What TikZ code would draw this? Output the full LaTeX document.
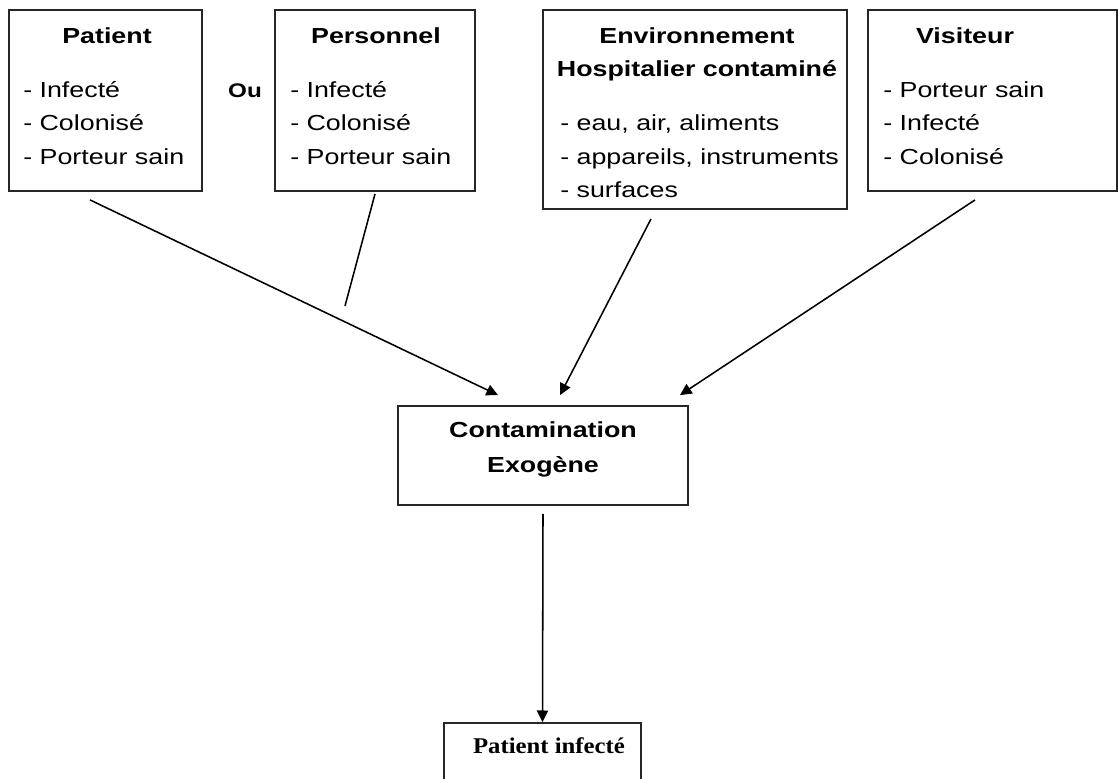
\documentclass[tikz,border=0pt]{standalone}
\usepackage{fontspec}
\setmainfont{Liberation Sans}[FakeStretch=1.23]
\newfontfamily\serifwide{Liberation Serif}[FakeStretch=1.1]
\usepackage{tikz}
\usetikzlibrary{positioning, arrows.meta, fit, calc}

\tikzset{
  srcbox/.style={draw=black!85, line width=1.3pt, inner sep=0pt},
  headtxt/.style={anchor=base, inner sep=0pt, font=\fontsize{15.5}{23.8}\selectfont\bfseries},
  itemtxt/.style={anchor=base west, inner sep=0pt},
  flowline/.style={line width=1.1pt, -{Triangle[length=2.9mm,width=2.8mm]}},
}

\begin{document}
\begin{tikzpicture}[x=0.025cm,y=-0.025cm,font=\fontsize{15.5}{23.8}\selectfont]
    \useasboundingbox (0,0) rectangle (1118,778);

    % boxes
    \node[srcbox, fit={(9,10) (202,191)}] (patient) {};
    \node[srcbox, fit={(275,10) (475,191)}] (staff) {};
    \node[srcbox, fit={(543,10) (847,209)}] (env) {};
    \node[srcbox, fit={(868,10) (1117,191)}] (visitor) {};
    \node[srcbox, fit={(398,406) (688,505)}] (contam) {};
    \node[srcbox, fit={(444,723) (641,800)}] (infected) {};

    % titles
    \node[headtxt] (patient-t) at (107,43) {Patient};
    \node[headtxt] (staff-t) at (376,43) {Personnel};
    \node[headtxt] (env-t1) at (697,43) {Environnement};
    \node[headtxt] (env-t2) at (697,76) {Hospitalier contaminé};
    \node[headtxt] (visitor-t) at (965,43) {Visiteur};
    \node[headtxt, font=\fontsize{14}{16}\selectfont\bfseries] (or) at (245,97) {Ou};

    % lists
    \foreach \t [count=\i] in {Infecté, Colonisé, Porteur sain} {
      \node[itemtxt] (patient-\i) at (23,63.5+33.5*\i) {- \t};
      \node[itemtxt] (staff-\i) at (290,63.5+33.5*\i) {- \t};
    }
    \foreach \t [count=\i] in {{eau, air, aliments}, {appareils, instruments}, surfaces}
      \node[itemtxt] (env-\i) at (560,97+33.5*\i) {- \t};
    \foreach \t [count=\i] in {Porteur sain, Infecté, Colonisé}
      \node[itemtxt] (visitor-\i) at (883,63.5+33.5*\i) {- \t};

    \node[headtxt] (contam-t1) at (543,437) {Contamination};
    \node[headtxt] (contam-t2) at (543,472) {Exogène};
    \node[headtxt, font=\fontsize{16}{18}\selectfont\serifwide\bfseries] (infected-t) at (549,753) {Patient infecté};

    % connectors
    \coordinate (staff-end) at (345,306);
    \draw[flowline] ($(patient.south)+(-15.5,8)$) -- ($(contam.north)+(-45,-10)$);
    \draw[line width=1.1pt] ($(staff.south)+(0,2)$) -- (staff-end);
    \draw[flowline] ($(env.south)+(-44,9)$) -- ($(contam.north)+(17,-10)$);
    \draw[flowline] ($(visitor.south)+(-17.5,8)$) -- ($(contam.north)+(137,-10)$);
    \draw[flowline] ($(contam.south)+(0,8)$) -- (infected.north);
\end{tikzpicture}
\end{document}
